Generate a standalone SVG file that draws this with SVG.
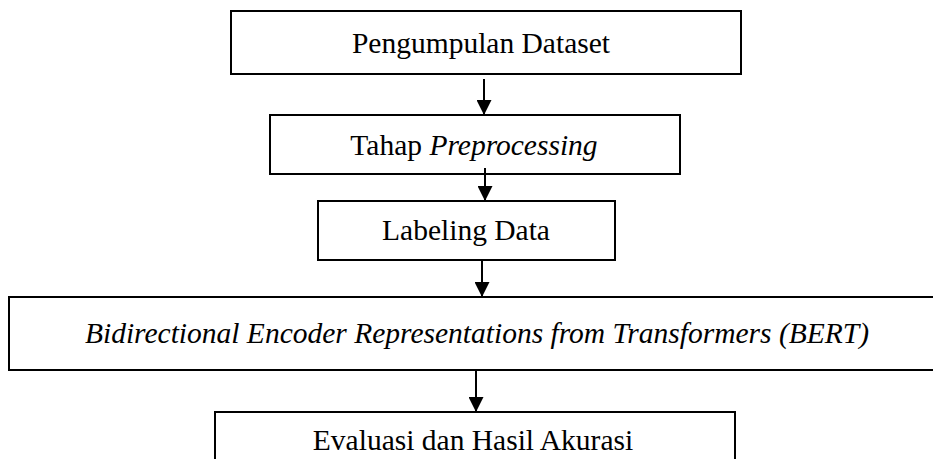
<svg xmlns="http://www.w3.org/2000/svg" width="933" height="459" viewBox="0 0 933 459">
<style>
.box{fill:#fff;stroke:#000;stroke-width:2}
.t{font-family:'Liberation Serif', 'Times New Roman', Times, serif;font-size:29.5px;fill:#000;text-anchor:middle}
.i{font-style:italic}
.c{stroke:#000;stroke-width:2;fill:none}
</style>
<defs>
<marker id="ah2" viewBox="0 0 16 16" refX="16" refY="8" markerWidth="16" markerHeight="15" markerUnits="userSpaceOnUse" orient="auto">
<path d="M0,0 L16,8 L0,16 Z" fill="#000"/>
</marker>
</defs>
<g id="n1"><rect class="box" x="231" y="11" width="510" height="63"/><text class="t" x="481" y="53">Pengumpulan Dataset</text></g>
<g id="n2"><rect class="box" x="270" y="115" width="410" height="59"/><text class="t" x="474" y="155">Tahap <tspan class="i">Preprocessing</tspan></text></g>
<g id="n3"><rect class="box" x="318" y="201" width="297" height="59"/><text class="t" x="466" y="240">Labeling Data</text></g>
<g id="n4"><rect class="box" x="9" y="297" width="930" height="73"/><text class="t i" x="477" y="343">Bidirectional Encoder Representations from Transformers (BERT)</text></g>
<g id="n5"><rect class="box" x="215" y="412" width="520" height="60"/><text class="t" x="473" y="450">Evaluasi dan Hasil Akurasi</text></g>
<g id="connectors">
<line class="c" x1="484" y1="79" x2="484" y2="115" marker-end="url(#ah2)"/>
<line class="c" x1="485" y1="168" x2="485" y2="201" marker-end="url(#ah2)"/>
<line class="c" x1="482" y1="260" x2="482" y2="297" marker-end="url(#ah2)"/>
<line class="c" x1="476" y1="370" x2="476" y2="412" marker-end="url(#ah2)"/>
</g>
</svg>
